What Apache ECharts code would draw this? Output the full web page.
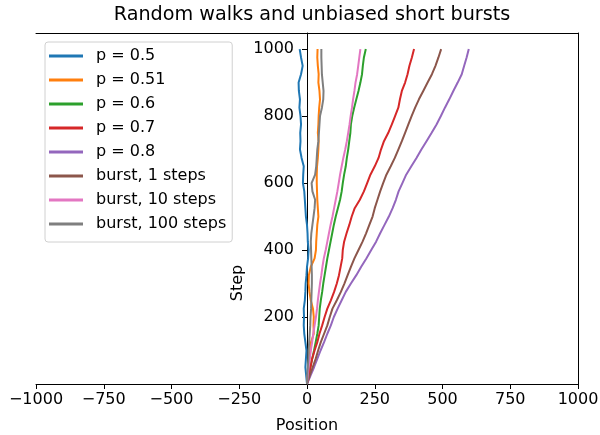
<!DOCTYPE html>
<html>
<head>
<meta charset="utf-8">
<script src="https://cdn.jsdelivr.net/npm/echarts@6/dist/echarts.min.js"></script>
<style>html,body{margin:0;padding:0;background:#fff;}#chart{width:600px;height:435px;}</style>
</head>
<body>
<div id="chart"></div>
<script>
const steps = [0,25,50,75,100,125,150,175,200,225,250,275,300,325,350,375,400,425,450,475,500,525,550,575,600,625,650,675,700,725,750,775,800,825,850,875,900,925,950,975,1000];

const seriesNames = ["p = 0.5","p = 0.51","p = 0.6","p = 0.7","p = 0.8","burst, 1 steps","burst, 10 steps","burst, 100 steps"];

const p050 = [0,-3,-6,-4,-2,-6,-10,-12,-11,-12,-8,-6,-5,-2,0,4,6,3,2,0,-4,-6,-8,-10,-15,-14,-12,-20,-26,-24,-25,-22,-24,-28,-26,-30,-31,-22,-16,-22,-27];
const p051 = [0,3,6,9,12,15,25,24,25,22,14,9,6,7,14,28,33,34,36,38,42,40,38,37,36,36,37,40,42,43,40,42,43,45,48,46,42,43,40,38,39];
const p060 = [0,6,12,19,26,32,38,43,45,47,51,56,60,65,70,75,81,87,93,99,106,114,122,128,132,137,143,147,152,156,160,162,167,174,182,190,197,203,206,210,217];
const p070 = [0,7,13,19,28,38,46,56,65,75,88,100,110,118,124,130,132,137,146,156,165,176,195,210,222,234,250,264,273,284,300,313,325,337,343,350,362,371,378,387,395];
const p080 = [0,13,26,38,50,63,75,88,99,113,128,143,162,182,200,219,237,255,270,286,302,316,328,338,352,366,385,404,422,441,460,478,494,509,525,540,556,571,580,589,597];
const burst1 = [0,10,21,32,41,51,63,75,84,94,110,125,138,150,162,175,190,205,218,230,242,250,260,270,281,293,309,324,337,350,362,374,386,399,413,429,445,461,474,485,495];
const burst10 = [0,3,6,10,14,19,23,28,33,37,40,44,48,53,57,62,69,75,81,87,94,100,106,112,117,122,128,134,141,147,152,157,161,166,170,175,179,185,189,193,197];
const burst100 = [0,1,3,5,6,8,10,12,13,15,16,17,18,18,17,16,15,14,16,20,24,28,30,20,17,30,34,36,38,42,44,46,48,55,60,61,58,55,54,53,53];

const walks = [p050,p051,p060,p070,p080,burst1,burst10,burst100];
const colors = ["#1f77b4","#ff7f0e","#2ca02c","#d62728","#9467bd","#8c564b","#e377c2","#7f7f7f"];

const xTicks = [-1000,-750,-500,-250,0,250,500,750,1000];
const yTicks = [200,400,600,800,1000];

const FONT = "DejaVu Sans";
const chart = echarts.init(document.getElementById('chart'), null, {renderer:'canvas'});

const series = walks.map((w, i) => ({
  name: seriesNames[i],
  type: 'line',
  xAxisIndex: 0,
  yAxisIndex: 0,
  showSymbol: false,
  symbol: 'none',
  animation: false,
  lineStyle: {width: 2, color: colors[i]},
  itemStyle: {color: colors[i]},
  data: w.map((v, k) => [v, steps[k]])
}));

const GL = 36, GR = 22, GT = 33, GB = 51;
const zeroX = GL + (600 - GL - GR) / 2;

chart.setOption({
  animation: false,
  textStyle: {fontFamily: FONT},
  title: {
    text: "Random walks and unbiased short bursts",
    left: zeroX, top: 1, textAlign: 'center',
    textStyle: {fontFamily: FONT, fontSize: 19.2, fontWeight: 'normal', color: '#000'}
  },
  legend: {
    orient: 'vertical', left: 45, top: 42,
    data: seriesNames,
    icon: 'rect', itemWidth: 34, itemHeight: 3, itemGap: 6,
    padding: [5, 6, 9, 4],
    borderColor: '#d0d0d0', borderWidth: 1, borderRadius: 3,
    backgroundColor: '#fff',
    textStyle: {fontFamily: FONT, fontSize: 16, color: '#000', lineHeight: 18, padding: [0,0,0,8]}
  },
  grid: [
    {left: GL, right: GR, top: GT, bottom: GB, containLabel: false, outerBoundsMode: 'none'},
    {left: zeroX, width: 1, top: GT, bottom: GB, containLabel: false, outerBoundsMode: 'none'}
  ],
  xAxis: [{
    gridIndex: 0, type: 'value', min: -1000, max: 1000, interval: 250,
    name: 'Position', nameLocation: 'middle', nameGap: 34,
    nameTextStyle: {fontFamily: FONT, fontSize: 16, color: '#000'},
    axisLine: {onZero: false, lineStyle: {color: '#000', width: 1}},
    axisTick: {show: true, inside: false, length: 5, lineStyle: {color: '#000'}, customValues: xTicks},
    axisLabel: {margin: 8, fontFamily: FONT, fontSize: 16, color: '#000', customValues: xTicks,
      formatter: v => (v < 0 ? '\u2212' + Math.abs(v) : String(v))},
    splitLine: {show: false}
  }, {
    gridIndex: 0, type: 'value', position: 'top', min: -1000, max: 1000,
    axisLine: {show: true, onZero: false, lineStyle: {color: '#000', width: 1}},
    axisTick: {show: false}, axisLabel: {show: false}, splitLine: {show: false}
  }, {
    gridIndex: 1, type: 'value', min: 0, max: 1, show: false
  }],
  yAxis: [{
    gridIndex: 0, type: 'value', position: 'right', min: 0, max: 1048,
    axisLine: {show: true, onZero: false, lineStyle: {color: '#000', width: 1}},
    axisTick: {show: false}, axisLabel: {show: false}, splitLine: {show: false}
  }, {
    gridIndex: 1, type: 'value', position: 'left', min: 0, max: 1048,
    axisLine: {show: true, onZero: false, lineStyle: {color: '#000', width: 1}},
    axisTick: {show: true, inside: false, length: 5, lineStyle: {color: '#000'}, customValues: yTicks},
    axisLabel: {margin: 13, fontFamily: FONT, fontSize: 16, color: '#000', customValues: yTicks,
      formatter: v => String(v)},
    splitLine: {show: false}
  }],
  graphic: [{
    type: 'text', x: 238, y: 283, rotation: Math.PI / 2,
    style: {text: 'Step', fontFamily: FONT, fontSize: 16, fill: '#000', align: 'center', verticalAlign: 'middle'}
  }],
  series: series
});
</script>
</body>
</html>
